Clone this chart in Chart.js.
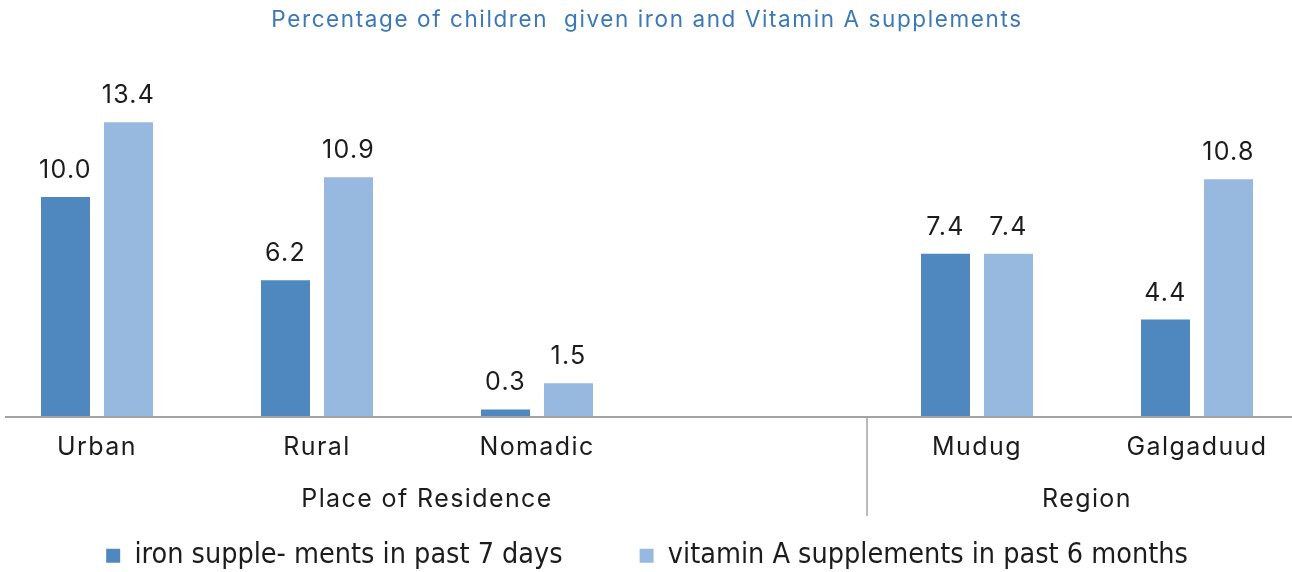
<!DOCTYPE html>
<html>
<head>
<meta charset="utf-8">
<script src="https://cdn.jsdelivr.net/npm/chart.js@4.4.1/dist/chart.umd.min.js"></script>
<style>
  html, body { margin: 0; padding: 0; background: #fff; overflow: hidden; width: 1292px; height: 572px; }
  #wrap { position: absolute; left: -13px; top: 0; width: 1320px; height: 572px; }
</style>
</head>
<body>
<div id="wrap"><canvas id="c" width="1320" height="572"></canvas></div>
<script>
// Categories and series
const categories = ['Urban', 'Rural', 'Nomadic', '', 'Mudug', 'Galgaduud'];
const ironValues = [10.0, 6.2, 0.3, null, 7.4, 4.4];
const vitaminAValues = [13.4, 10.9, 1.5, null, 7.4, 10.8];
const seriesNames = ['iron supple- ments in past 7 days', 'vitamin A supplements in past 6 months'];
// Outer axis groups: name and the category index range each covers
const groupNames = ['Place of Residence', 'Region'];
const groupRanges = [[0, 3], [4, 5]];
const titleText = 'Percentage of children  given iron and Vitamin A supplements';

const DARK = '#4f88be';
const LIGHT = '#98b9df';
const TEXT = '#1c1c1c';
const MAIN_FONT = 'Inter, Lato, sans-serif';
const NARROW_FONT = '"Liberation Sans Narrow", "DejaVu Sans Condensed", sans-serif';
const TICK_SPACING = '1.4px';
const TITLE_SPACING = '1.6px';
const VALUE_SPACING = '1.3px';

// Run a layout box's draw with its own letter spacing
function withSpacing(box, spacing) {
  if (!box || box._spacingPatched) return;
  const orig = box.draw;
  box.draw = function (...args) {
    const prev = this.ctx.letterSpacing;
    this.ctx.letterSpacing = spacing;
    orig.apply(this, args);
    this.ctx.letterSpacing = prev;
  };
  box._spacingPatched = true;
}

const trackingPlugin = {
  id: 'tracking',
  beforeDraw(chart) {
    chart.ctx.letterSpacing = TICK_SPACING;
    withSpacing(chart.titleBlock, TITLE_SPACING);
    withSpacing(chart.legend, '0px');
  }
};

// Value labels above each bar
const valueLabelPlugin = {
  id: 'valueLabels',
  afterDatasetsDraw(chart) {
    const ctx = chart.ctx;
    ctx.save();
    ctx.letterSpacing = VALUE_SPACING;
    ctx.font = '25px ' + MAIN_FONT;
    ctx.fillStyle = TEXT;
    ctx.textAlign = 'center';
    ctx.textBaseline = 'alphabetic';
    chart.data.datasets.forEach((ds, di) => {
      const meta = chart.getDatasetMeta(di);
      meta.data.forEach((bar, i) => {
        const v = ds.data[i];
        if (v === null || v === undefined) return;
        ctx.fillText(v.toFixed(1), bar.x, bar.y - 19);
      });
    });
    ctx.restore();
  }
};

// Baseline, group separators and group captions under the category labels
const groupAxisPlugin = {
  id: 'groupAxis',
  afterDraw(chart) {
    const ctx = chart.ctx;
    const x = chart.scales.x;
    const area = chart.chartArea;
    const half = (x.getPixelForValue(1) - x.getPixelForValue(0)) / 2;
    ctx.save();
    ctx.strokeStyle = '#a3a3a3';
    ctx.lineWidth = 2;
    ctx.beginPath();
    ctx.moveTo(area.left + 18, area.bottom + 1);
    ctx.lineTo(chart.width - 15, area.bottom + 1);
    ctx.stroke();

    ctx.lineWidth = 1.5;
    for (let g = 0; g < groupRanges.length - 1; g++) {
      const sx = x.getPixelForValue(groupRanges[g][1]) + half;
      ctx.beginPath();
      ctx.moveTo(sx, area.bottom + 1);
      ctx.lineTo(sx, area.bottom + 100);
      ctx.stroke();
    }

    ctx.letterSpacing = TICK_SPACING;
    ctx.font = '25px ' + MAIN_FONT;
    ctx.fillStyle = TEXT;
    ctx.textAlign = 'center';
    ctx.textBaseline = 'middle';
    groupNames.forEach((name, g) => {
      const [a, b] = groupRanges[g];
      const cx = (x.getPixelForValue(a) + x.getPixelForValue(b)) / 2;
      ctx.fillText(name, cx, area.bottom + 83);
    });
    ctx.restore();
  }
};

new Chart(document.getElementById('c'), {
  type: 'bar',
  data: {
    labels: categories,
    datasets: [
      { label: seriesNames[0], data: ironValues, backgroundColor: DARK,
        categoryPercentage: 0.5727, barPercentage: 0.778 },
      { label: seriesNames[1], data: vitaminAValues, backgroundColor: LIGHT,
        categoryPercentage: 0.5727, barPercentage: 0.778 }
    ]
  },
  options: {
    responsive: false,
    animation: false,
    devicePixelRatio: 1,
    layout: { padding: { top: 0, left: 0, right: 0, bottom: -8 } },
    plugins: {
      title: {
        display: true,
        text: titleText,
        color: '#3a78b8',
        font: { family: MAIN_FONT, size: 22.5, weight: 'normal' },
        padding: { top: 7, bottom: 31.4 }
      },
      legend: {
        display: true,
        position: 'bottom',
        labels: {
          color: TEXT,
          font: { family: NARROW_FONT, size: 28.5 },
          boxWidth: 14,
          boxHeight: 14,
          padding: 77
        }
      },
      tooltip: { enabled: false }
    },
    scales: {
      x: {
        grid: { display: false, drawTicks: false },
        border: { display: false },
        ticks: { color: TEXT, font: { family: MAIN_FONT, size: 25 }, padding: 16.5, maxRotation: 0, autoSkip: false },
        afterFit(scale) { scale.height = 48.5; }
      },
      y: {
        display: false,
        min: 0,
        max: 16
      }
    }
  },
  plugins: [trackingPlugin, valueLabelPlugin, groupAxisPlugin]
});
</script>
</body>
</html>
